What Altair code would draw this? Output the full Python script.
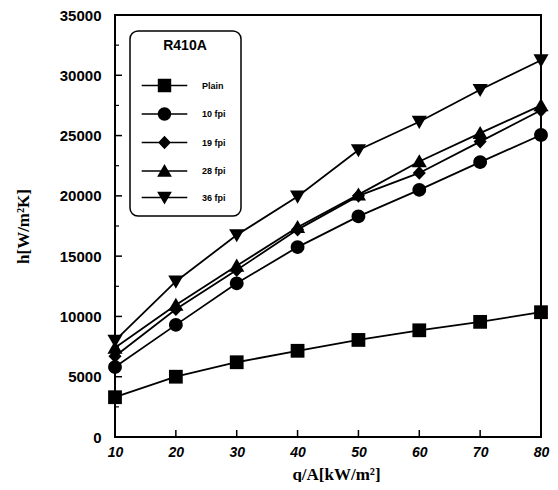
import altair as alt
import pandas as pd

q_vals = [10, 20, 30, 40, 50, 60, 70, 80]
series_names = ["Plain", "10 fpi", "19 fpi", "28 fpi", "36 fpi"]
plain = [3300, 5000, 6200, 7150, 8050, 8850, 9550, 10350]
fpi10 = [5800, 9300, 12750, 15750, 18300, 20500, 22800, 25050]
fpi19 = [6700, 10600, 13850, 17200, 20000, 21900, 24500, 27100]
fpi28 = [7400, 10950, 14200, 17400, 20100, 22850, 25200, 27500]
fpi36 = [8000, 12900, 16750, 19950, 23800, 26150, 28800, 31250]
y_major = [5000, 10000, 15000, 20000, 25000, 30000]
y_minor = [2500, 7500, 12500, 17500, 22500, 27500, 32500]
x_major = [20, 30, 40, 50, 60, 70]

rows = []
for name, vals in zip(series_names, [plain, fpi10, fpi19, fpi28, fpi36]):
    for q, h in zip(q_vals, vals):
        rows.append({"series": name, "q": q, "h": h})
df = pd.DataFrame(rows)

# all sub-paths drawn clockwise so the filled union has no holes
marker_paths = [
    "M-1,-1H1V1H-1Z",
    "M-1,0A1,1,0,1,1,1,0A1,1,0,1,1,-1,0Z",
    "M0,-1L0.95,0L0,1L-0.95,0Z",
    "M0,-1.05L1.1,0.85H-1.1Z",
    "M0,1.05L-1.1,-0.85H1.1Z",
]
seg = "M-3.4,-0.11H3.4V0.11H-3.4Z"
legend_paths = [seg + p for p in marker_paths]

W, H = 426, 422

x_enc = alt.X("q:Q", scale=alt.Scale(domain=[10, 80], nice=False),
              axis=alt.Axis(values=q_vals, ticks=False, domain=False, grid=False,
                            labelFlush=False,
                            title="q/A[kW/m²]", labelFont="Liberation Sans",
                            labelFontSize=14, labelFontWeight="bold",
                            labelFontStyle="italic", labelPadding=8,
                            labelColor="black", titleFont="Liberation Serif",
                            titleFontSize=17, titleFontWeight="bold",
                            titleColor="black", titleX=221, titleY=37,
                            titleBaseline="middle"))
y_enc = alt.Y("h:Q", scale=alt.Scale(domain=[0, 35000], nice=False),
              axis=alt.Axis(values=[0] + y_major + [35000], ticks=False,
                            domain=False, grid=False, title="h[W/m²K]",
                            format="d", labelFlush=False,
                            labelFont="Liberation Sans", labelFontSize=15,
                            labelFontWeight="bold", labelPadding=14,
                            labelColor="black", titleFont="Liberation Serif",
                            titleFontSize=17, titleFontWeight="bold",
                            titleColor="black", titleX=-92, titleY=211,
                            titleBaseline="middle"))

base = alt.Chart(df)
lines = base.mark_line(color="black", strokeWidth=1.8).encode(
    x=x_enc, y=y_enc, detail="series:N")
points = base.mark_point(filled=True, fill="black", opacity=1, size=190).encode(
    x=x_enc, y=y_enc,
    shape=alt.Shape("series:N",
                    scale=alt.Scale(domain=series_names, range=marker_paths),
                    legend=None))
pad = "\u2800"
legend_layer = base.mark_point(filled=True, fill="black", opacity=1, size=1).encode(
    x=x_enc, y=y_enc,
    shape=alt.Shape("series:N",
                    scale=alt.Scale(domain=series_names, range=legend_paths),
                    legend=alt.Legend(
                        title="R410A", orient="none", legendX=15, legendY=16,
                        strokeColor="black", cornerRadius=8, padding=8,
                        titleFont="Liberation Sans", titleFontSize=14,
                        titleFontWeight="bold", titleColor="black",
                        titlePadding=25, titleAnchor="middle",
                        labelFont="Liberation Sans", labelFontSize=9,
                        labelFontWeight="bold", labelColor="black",
                        labelExpr="datum.label + '" + pad + "'",
                        symbolOffset=19, labelOffset=30, rowPadding=7.5,
                        symbolSize=180, symbolFillColor="black",
                        symbolOpacity=1)))

ymaj = alt.Chart(pd.DataFrame({"h": y_major})).mark_rule(
    color="black", strokeWidth=1.5).encode(y=y_enc, x=alt.value(0), x2=alt.value(7))
ymin = alt.Chart(pd.DataFrame({"h": y_minor})).mark_rule(
    color="black", strokeWidth=1.2).encode(y=y_enc, x=alt.value(0), x2=alt.value(4))
xmaj = alt.Chart(pd.DataFrame({"q": x_major})).mark_rule(
    color="black", strokeWidth=1.5).encode(x=x_enc, y=alt.value(H), y2=alt.value(H - 7))

chart = alt.layer(ymaj, ymin, xmaj, lines, legend_layer, points).resolve_scale(
    shape="independent"
).properties(
    width=W, height=H,
    autosize=alt.AutoSizeParams(type="none"),
    padding={"left": 107, "top": 7, "right": 9, "bottom": 45},
    background="white",
).configure_view(stroke="black", strokeWidth=2).configure_legend(strokeWidth=1.5)

chart.save("out.html", embed_options={"renderer": "svg", "actions": False})
